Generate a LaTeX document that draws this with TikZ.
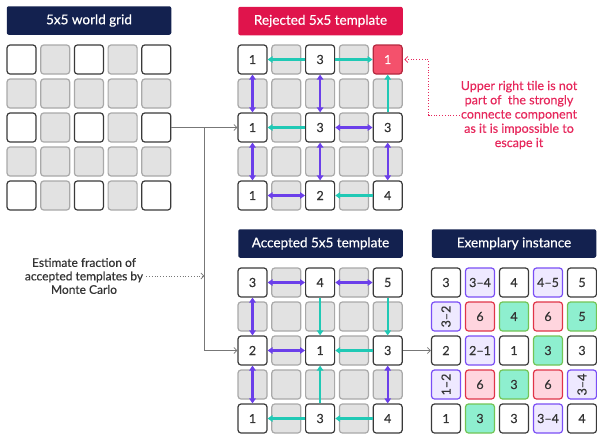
\documentclass[tikz,border=0pt]{standalone}
\usepackage{fontspec}
\setmainfont{Lato}[FakeBold=0.35]
\usetikzlibrary{arrows.meta,calc}
\definecolor{navy}{HTML}{13214F}
\definecolor{crimson}{HTML}{E0144C}
\definecolor{tealc}{HTML}{20C9B5}
\definecolor{purp}{HTML}{6B3FEA}
\definecolor{graytile}{HTML}{E2E2E2}
\definecolor{grayedge}{HTML}{A9A9A9}
\definecolor{darkedge}{HTML}{3A3A3A}
\definecolor{redtile}{HTML}{F4516C}
\definecolor{redtileedge}{HTML}{B5283F}
\definecolor{lav}{HTML}{EEE9FF}
\definecolor{lavedge}{HTML}{7A4EF5}
\definecolor{pinkt}{HTML}{FFD5DE}
\definecolor{pinkedge}{HTML}{E03448}
\definecolor{mint}{HTML}{8EEFCF}
\definecolor{mintedge}{HTML}{72C455}
\definecolor{notec}{HTML}{E6285C}
\definecolor{connc}{HTML}{777777}
\definecolor{textc}{HTML}{333333}
\tikzset{
  tilebase/.style={draw, rounded corners=3pt, minimum size=29pt, inner sep=0pt, line width=1.2pt,
    font=\fontsize{12.5}{14}\selectfont, text=textc},
  tW/.style={tilebase, fill=white, draw=darkedge},
  tG/.style={tilebase, fill=graytile, draw=grayedge},
  tR/.style={tilebase, fill=redtile, draw=redtileedge, text=white},
  tL/.style={tilebase, fill=lav, draw=lavedge},
  tP/.style={tilebase, fill=pinkt, draw=pinkedge},
  tM/.style={tilebase, fill=mint, draw=mintedge},
  header/.style={rounded corners=2pt, inner sep=0pt, text=white, font=\fontsize{13.5}{15}\selectfont,
    minimum height=28.5pt, minimum width=164.5pt},
  tarrow/.style={draw=tealc, line width=2.2pt, -{Triangle[length=5pt,width=6.5pt]}},
  parrow/.style={draw=purp, line width=2.2pt, {Triangle[length=5pt,width=6.5pt]}-{Triangle[length=5pt,width=6.5pt]}},
  conn/.style={draw=connc, line width=0.8pt, -{Straight Barb[length=3pt,width=6pt]}},
  dotconn/.style={draw=connc, line width=0.8pt, dotted, -{Straight Barb[length=3pt,width=6pt]}},
  notelink/.style={draw=notec, line width=0.8pt, dotted, -{Straight Barb[length=3pt,width=6pt]}},
}
\begin{document}
\begin{tikzpicture}[x=1pt,y=-1pt]
\useasboundingbox (0,0) rectangle (597,437);

% headers
\node[header, fill=navy] (hw) at (89,20.5) {5x5 world grid};
\node[header, fill=crimson] (hr) at (320.5,21) {Rejected 5x5 template};
\node[header, fill=navy] (ha) at (320.5,243.5) {Accepted 5x5 template};
\node[header, fill=navy] (he) at (514,243.5) {Exemplary instance};

% world grid
\foreach \r in {1,...,5}{\foreach \c in {1,...,5}{
  \ifodd\r \ifodd\c \def\sty{tW}\else\def\sty{tG}\fi \else \def\sty{tG}\fi
  \node[\sty] (w-\r-\c) at ({7+(\c-1)*33.7+14.5},{45+(\r-1)*34+14.5}) {};
}}

% rejected and accepted grids: gray tiles
\foreach \r in {1,...,5}{\foreach \c in {1,...,5}{
  \ifodd\r \ifodd\c \def\sty{}\else\def\sty{tG}\fi \else \def\sty{tG}\fi
  \ifx\sty\empty\else
  \node[tG] (r-\r-\c) at ({238+(\c-1)*33.8+14.5},{45+(\r-1)*34+14.5}) {};
  \node[tG] (a-\r-\c) at ({238+(\c-1)*33.8+14.5},{268+(\r-1)*34+14.5}) {};
  \fi
}}
% rejected white tiles
\foreach \r/\c/\t in {1/1/1, 1/3/3, 3/1/1, 3/3/3, 3/5/3, 5/1/1, 5/3/2, 5/5/4}{
  \node[tW] (r-\r-\c) at ({238+(\c-1)*33.8+14.5},{45+(\r-1)*34+14.5}) {\t};
}
\node[tR] (r-1-5) at ({238+4*33.8+14.5},{45+14.5}) {1};
% accepted white tiles
\foreach \r/\c/\t in {1/1/3, 1/3/4, 1/5/5, 3/1/2, 3/3/1, 3/5/3, 5/1/1, 5/3/3, 5/5/4}{
  \node[tW] (a-\r-\c) at ({238+(\c-1)*33.8+14.5},{268+(\r-1)*34+14.5}) {\t};
}

% exemplary instance
\foreach \r/\c/\s/\t/\rot in {
  1/1/tW/3/0, 1/2/tL/3–4/0, 1/3/tW/4/0, 1/4/tL/4–5/0, 1/5/tW/5/0,
  2/1/tL/3–2/90, 2/2/tP/6/0, 2/3/tM/4/0, 2/4/tP/6/0, 2/5/tM/5/0,
  3/1/tW/2/0, 3/2/tL/2–1/0, 3/3/tW/1/0, 3/4/tM/3/0, 3/5/tW/3/0,
  4/1/tL/1–2/90, 4/2/tP/6/0, 4/3/tM/3/0, 4/4/tP/6/0, 4/5/tL/3–4/90,
  5/1/tW/1/0, 5/2/tM/3/0, 5/3/tW/3/0, 5/4/tL/3–4/0, 5/5/tW/4/0}{
  \node[\s] (e-\r-\c) at ({431.5+(\c-1)*34+14.5},{268+(\r-1)*34+14.5}) {\rotatebox{\rot}{\t}};
}

% rejected arrows
\draw[tarrow] (r-1-3) -- (r-1-1);
\draw[tarrow] (r-1-3) -- (r-1-5);
\draw[parrow] (r-1-1) -- (r-3-1);
\draw[parrow] (r-1-3) -- (r-3-3);
\draw[tarrow] (r-3-5) -- (r-1-5);
\draw[tarrow] (r-3-3) -- (r-3-1);
\draw[parrow] (r-3-3) -- (r-3-5);
\draw[parrow] (r-3-1) -- (r-5-1);
\draw[parrow] (r-3-3) -- (r-5-3);
\draw[parrow] (r-3-5) -- (r-5-5);
\draw[parrow] (r-5-1) -- (r-5-3);
\draw[tarrow] (r-5-5) -- (r-5-3);

% accepted arrows
\draw[parrow] (a-1-1) -- (a-1-3);
\draw[parrow] (a-1-3) -- (a-1-5);
\draw[parrow] (a-1-1) -- (a-3-1);
\draw[tarrow] (a-1-3) -- (a-3-3);
\draw[tarrow] (a-1-5) -- (a-3-5);
\draw[parrow] (a-3-1) -- (a-3-3);
\draw[tarrow] (a-3-5) -- (a-3-3);
\draw[parrow] (a-3-1) -- (a-5-1);
\draw[tarrow] (a-5-3) -- (a-3-3);
\draw[parrow] (a-3-5) -- (a-5-5);
\draw[tarrow] (a-5-3) -- (a-5-1);
\draw[tarrow] (a-5-5) -- (a-5-3);

% main connectors
\coordinate (j) at ($(w-3-5.east)!0.5!(r-3-1.west)$);
\draw[conn] (w-3-5.east) -- (r-3-1.west);
\draw[conn] (j) |- (a-3-1.west);
\draw[conn] (a-3-5.east) -- (e-3-1.west);

% annotations
\node[align=center, text=textc, inner sep=1pt, font=\fontsize{12}{13.5}\selectfont] (mc) at (84,276)
  {Estimate fraction of\\accepted templates by\\Monte Carlo};
\draw[dotconn, shorten <=2pt] (mc.east) -- (mc.east -| j);

\node[align=center, text=notec, inner sep=1pt, font=\fontsize{12.5}{14.25}\selectfont] (note) at (519,115)
  {Upper right tile is not\\part of\ \ the strongly\\connecte component\\as it is impossible to\\escape it};
\draw[notelink, shorten >=1.5pt] (note.west) -- ++(-31,0) |- (r-1-5.east);
\end{tikzpicture}
\end{document}
